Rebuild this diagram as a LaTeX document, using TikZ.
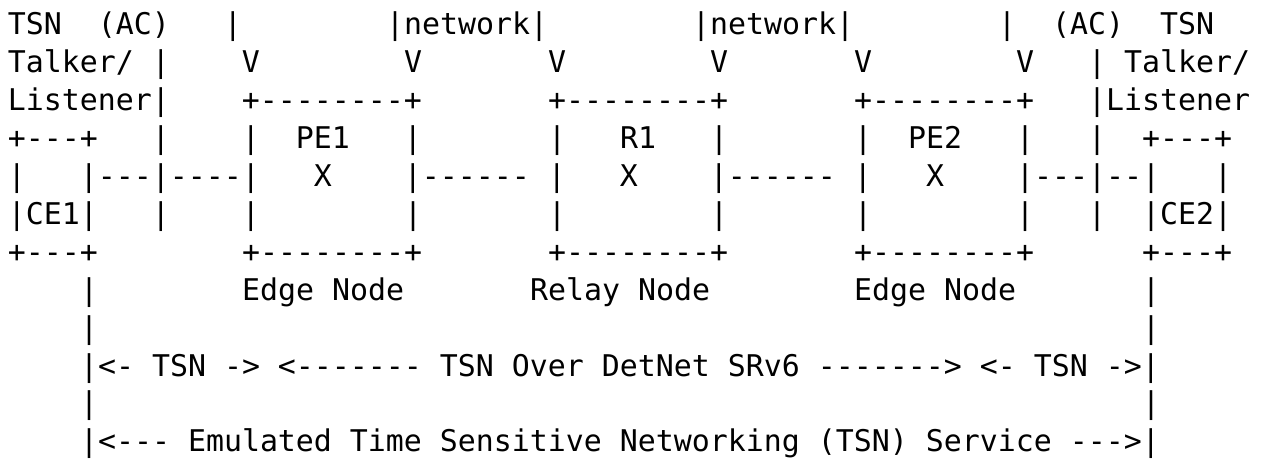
\documentclass[tikz,border=0pt]{standalone}
\usepackage{fontspec}
\setmonofont{DejaVu Sans Mono}
\usepackage{tikz}

\begin{document}
\begin{tikzpicture}[
    x=0.5pt,
    y=0.5pt,
    ascii row/.style={
        anchor=base west,
        inner sep=0pt,
        outer sep=0pt,
        font=\ttfamily\fontsize{14.95}{19}\selectfont
    }
]
\useasboundingbox (0,0) rectangle (1266,-460);

\coordinate (r1) at (8,-35);
\coordinate (r2) at (8,-72.9);
\coordinate (r3) at (8,-110.8);
\coordinate (r4) at (8,-148.7);
\coordinate (r5) at (8,-186.6);
\coordinate (r6) at (8,-224.5);
\coordinate (r7) at (8,-262.4);
\coordinate (r8) at (8,-300.3);
\coordinate (r9) at (8,-338.2);
\coordinate (r10) at (8,-376.1);
\coordinate (r11) at (8,-414);
\coordinate (r12) at (8,-451.9);

\node[ascii row] (header) at (r1) {TSN~~(AC)~~~|~~~~~~~~|network|~~~~~~~~|network|~~~~~~~~|~~(AC)~~TSN};
\node[ascii row] (talker) at (r2) {Talker/~|~~~~V~~~~~~~~V~~~~~~~V~~~~~~~~V~~~~~~~V~~~~~~~~V~~~|~Talker/};
\node[ascii row] (listener) at (r3) {Listener|~~~~+--------+~~~~~~~+--------+~~~~~~~+--------+~~~|Listener};

\node[ascii row] (names) at (r4) {+---+~~~|~~~~|~~PE1~~~|~~~~~~~|~~~R1~~~|~~~~~~~|~~PE2~~~|~~~|~~+---+};
\node[ascii row] (links) at (r5) {|~~~|---|----|~~~X~~~~|------~|~~~X~~~~|------~|~~~X~~~~|---|--|~~~|};
\node[ascii row] (ce) at (r6) {|CE1|~~~|~~~~|~~~~~~~~|~~~~~~~|~~~~~~~~|~~~~~~~|~~~~~~~~|~~~|~~|CE2|};
\node[ascii row] (bottoms) at (r7) {+---+~~~~~~~~+--------+~~~~~~~+--------+~~~~~~~+--------+~~~~~~+---+};

\node[ascii row] (roles) at (r8) {~~~~|~~~~~~~~Edge~Node~~~~~~~Relay~Node~~~~~~~~Edge~Node~~~~~~~|};
\node[ascii row] (gap1) at (r9) {~~~~|~~~~~~~~~~~~~~~~~~~~~~~~~~~~~~~~~~~~~~~~~~~~~~~~~~~~~~~~~~|};
\node[ascii row] (segments) at (r10) {~~~~|<-~TSN~->~<-------~TSN~Over~DetNet~SRv6~------->~<-~TSN~->|};
\node[ascii row] (gap2) at (r11) {~~~~|~~~~~~~~~~~~~~~~~~~~~~~~~~~~~~~~~~~~~~~~~~~~~~~~~~~~~~~~~~|};
\node[ascii row] (service) at (r12) {~~~~|<---~Emulated~Time~Sensitive~Networking~(TSN)~Service~--->|};

\end{tikzpicture}
\end{document}
